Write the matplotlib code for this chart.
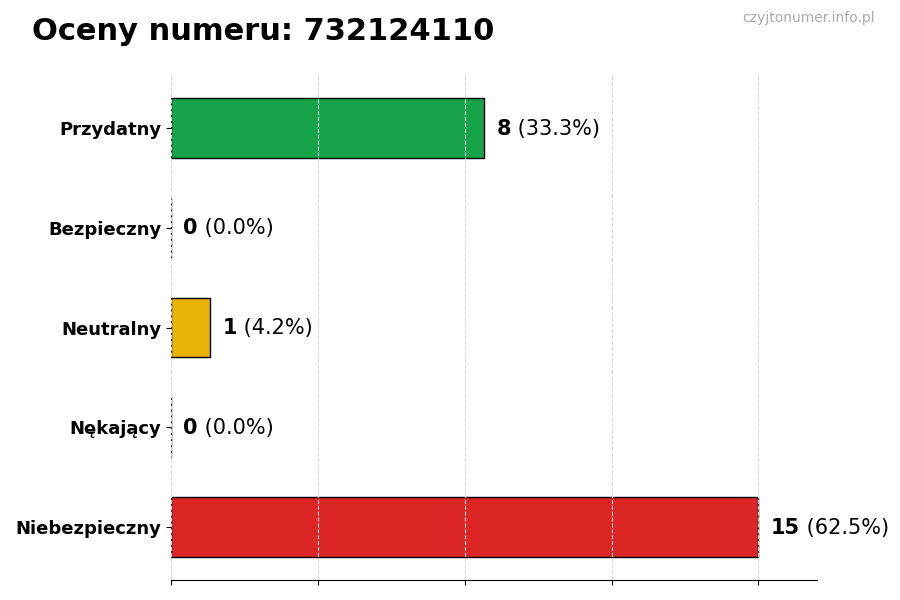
import numpy as np
import matplotlib.pyplot as plt

# ratings for the number
categories = ["Przydatny", "Bezpieczny", "Neutralny", "Nękający", "Niebezpieczny"]
counts = [8, 0, 1, 0, 15]
colors = ["#16a34a", "#9ca3af", "#eab308", "#f97316", "#dc2626"]
title = "Oceny numeru: 732124110"
watermark = "czyjtonumer.info.pl"

total = sum(counts)
percents = [100.0 * c / total for c in counts]

fig = plt.figure(figsize=(9, 6), dpi=100)
ax = fig.add_axes([0.19, 0.0333, 0.718, 0.8417])

y = np.arange(len(categories))
ax.barh(y, counts, height=0.6, color=colors, edgecolor="black", linewidth=1)

ax.set_yticks(y)
ax.set_yticklabels(categories, fontsize=13, fontweight="bold")
ax.set_ylim(len(categories) - 1 + 0.53, -0.53)

xmax = max(counts)
ax.set_xlim(0, xmax * 1.1)
ax.set_xticks(np.linspace(0, xmax, 5))
ax.set_xticklabels([])

ax.grid(axis="x", linestyle="--", color="#d9d9d9", linewidth=0.8)
for s in ["top", "right", "left"]:
    ax.spines[s].set_visible(False)

for yi, c, p in zip(y, counts, percents):
    t = ax.annotate(str(c), xy=(c, yi), xytext=(9, -0.5), textcoords="offset points",
                    fontsize=15, fontweight="bold", va="center", ha="left")
    ax.annotate(" (%.1f%%)" % p, xy=(1, 0.5), xycoords=t, fontsize=15,
                va="center", ha="left")

fig.text(0.036, 0.947, title, fontsize=22, fontweight="bold", va="center", ha="left")
fig.text(0.972, 0.970, watermark, fontsize=10, color="#aaaaaa", va="center", ha="right")

fig.savefig("out.png", dpi=100)
